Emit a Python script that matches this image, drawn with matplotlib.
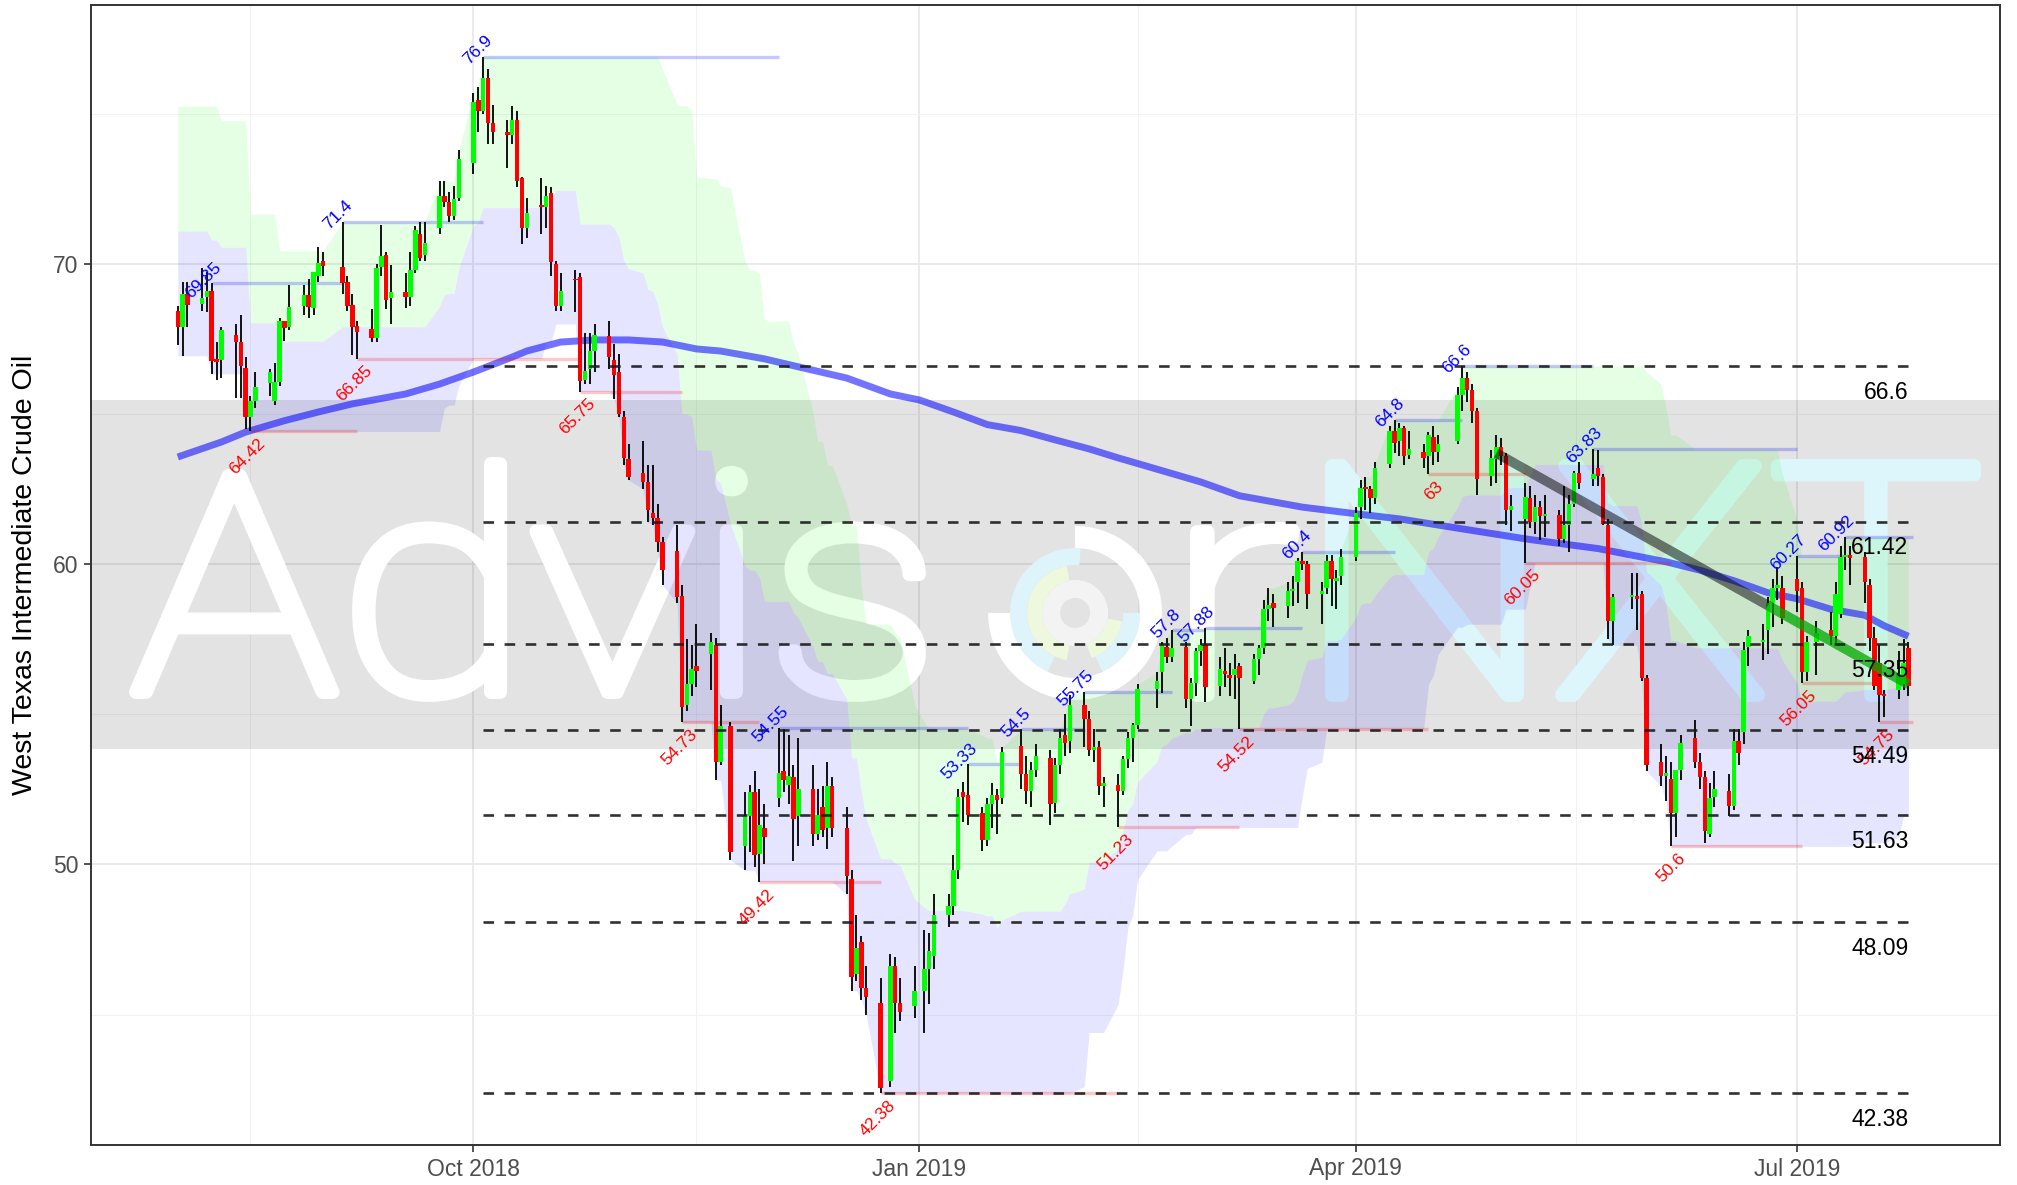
import numpy as np
import pandas as pd
import matplotlib
matplotlib.use("Agg")
import matplotlib.pyplot as plt
import matplotlib.dates as mdates
from matplotlib.patches import Wedge, PathPatch
from matplotlib.textpath import TextPath
from matplotlib.font_manager import FontProperties
from matplotlib.transforms import Affine2D

plt.rcParams["font.family"] = ["Liberation Sans", "DejaVu Sans"]

# trading days shown (NYMEX closed on these)
holidays = ["2018-09-03", "2018-11-22", "2018-12-25", "2019-01-01", "2019-01-21",
            "2019-02-18", "2019-04-19", "2019-05-27", "2019-07-04"]
days = pd.bdate_range("2018-08-01", "2019-07-24")
days = days[~days.isin(pd.to_datetime(holidays))]

# daily OHLC, one line per month
opens = [
    68.45, 67.90, 69.00, 68.67, 68.90, 69.09, 66.85, 66.80, 67.65, 67.40, 66.55, 64.90, 65.45, 66.04, 65.45, 66.06, 68.10, 67.90, 68.60, 68.95, 68.55, 69.60, 70.10,
    69.90, 69.40, 68.65, 67.95, 67.85, 67.55, 69.90, 70.30, 68.85, 69.05, 68.90, 69.80, 71.00, 70.30, 71.20, 72.25, 72.05, 71.60, 72.20,
    73.35, 75.45, 75.10, 76.20, 74.70, 74.40, 74.30, 74.80, 72.85, 71.20, 71.95, 71.90, 72.35, 70.00, 68.60, 69.50, 69.55, 66.15, 66.50, 67.10, 67.60, 66.80, 66.40,
    64.90, 63.50, 63.05, 62.75, 61.70, 61.55, 60.75, 60.45, 58.95, 55.30, 56.00, 56.60, 57.00, 57.30, 53.40, 54.60, 50.60, 51.60, 52.40, 50.35, 51.20,
    52.20, 53.10, 52.65, 52.90, 51.60, 52.50, 51.00, 51.90, 51.20, 52.60, 51.20, 49.50, 46.35, 47.40, 45.90, 45.40, 42.80, 46.60, 45.40, 45.30,
    45.80, 46.50, 46.95, 48.30, 48.60, 49.80, 52.40, 52.30, 51.70, 50.80, 52.00, 52.30, 52.20, 53.95, 53.00, 52.45, 53.15, 53.55, 52.05, 53.30, 54.30,
    54.10, 55.30, 54.85, 53.80, 53.90, 52.60, 52.65, 52.45, 53.50, 54.20, 54.65, 55.85, 56.40, 57.25, 56.90, 57.25, 55.50, 56.05, 57.10,
    57.30, 55.95, 56.45, 56.30, 56.30, 56.60, 56.10, 56.85, 57.20, 58.50, 58.70, 58.60, 59.10, 59.40, 60.10, 60.00, 59.00, 59.20, 60.10, 59.45, 59.60,
    60.25, 61.90, 62.55, 62.50, 62.20, 63.35, 64.45, 64.10, 64.55, 63.65, 63.75, 63.60, 64.25, 63.75, 64.10, 65.65, 66.20, 65.80, 65.10, 62.95, 63.50,
    63.90, 63.60, 61.80, 61.50, 62.20, 61.40, 61.90, 61.60, 61.65, 60.85, 61.30, 62.00, 63.05, 62.85, 63.20, 62.90, 61.30, 58.10, 58.90, 58.95, 59.00, 56.20,
    53.40, 52.95, 52.85, 51.70, 53.15, 54.20, 53.40, 52.90, 51.00, 52.25, 52.45, 51.95, 54.10, 54.40, 57.25, 57.40, 57.80, 58.70, 59.20, 59.20,
    59.50, 59.20, 56.40, 57.40, 57.80, 57.60, 58.35, 60.25, 60.30, 60.25, 59.30, 57.55, 56.70, 55.65, 55.80, 56.00, 57.20,
]
highs = [
    68.60, 69.40, 69.40, 69.85, 69.72, 69.35, 67.40, 67.90, 68.00, 68.30, 66.90, 65.60, 66.40, 66.50, 66.70, 68.20, 68.10, 69.30, 69.30, 69.50, 69.70, 70.55, 70.40,
    71.40, 69.60, 69.00, 68.10, 68.50, 70.00, 71.30, 70.40, 69.95, 69.70, 70.40, 71.25, 71.40, 71.40, 72.75, 72.75, 72.40, 72.60, 73.80,
    75.70, 75.90, 76.90, 76.50, 75.30, 74.80, 75.27, 75.10, 72.90, 72.20, 72.85, 72.60, 72.55, 70.10, 69.70, 69.80, 69.70, 67.70, 67.70, 68.00, 68.10, 67.35, 67.00,
    65.10, 64.00, 64.10, 63.30, 63.30, 62.00, 60.90, 61.30, 59.30, 57.50, 57.30, 58.00, 57.70, 57.55, 55.30, 54.75, 52.40, 52.65, 53.10, 52.50, 52.00,
    54.55, 54.50, 54.30, 53.30, 54.20, 53.30, 52.50, 52.60, 53.40, 52.90, 51.90, 49.80, 48.30, 47.60, 46.60, 46.20, 47.00, 46.90, 46.20, 46.60,
    47.80, 47.70, 49.00, 49.00, 50.30, 52.50, 52.75, 53.33, 51.90, 52.20, 52.70, 52.50, 53.90, 54.50, 53.60, 53.40, 54.00, 53.80, 53.55, 54.50, 55.00,
    55.65, 55.75, 55.10, 54.50, 54.10, 52.90, 53.00, 53.60, 54.40, 54.70, 56.00, 56.40, 57.40, 57.55, 57.80, 57.40, 56.20, 57.20, 57.50,
    57.88, 56.90, 57.20, 56.70, 57.00, 56.70, 57.00, 57.30, 58.80, 59.20, 59.00, 59.40, 59.60, 60.20, 60.40, 60.10, 59.40, 60.30, 60.30, 59.80, 60.50,
    61.90, 62.80, 62.90, 62.60, 63.40, 64.60, 64.80, 64.70, 64.60, 64.45, 64.00, 64.40, 64.60, 64.30, 65.90, 66.60, 66.40, 66.00, 65.20, 63.80, 64.30,
    64.20, 63.70, 62.30, 62.70, 62.60, 62.30, 62.10, 62.30, 61.80, 62.60, 62.30, 63.10, 63.40, 63.83, 63.80, 63.00, 61.50, 59.00, 59.70, 59.70, 59.10, 56.30,
    54.00, 53.60, 53.40, 53.10, 54.30, 54.80, 53.70, 53.10, 52.70, 53.10, 53.00, 54.50, 54.50, 57.40, 57.80, 58.00, 58.90, 59.50, 59.90, 59.60,
    60.27, 59.40, 57.60, 58.10, 58.40, 59.40, 60.60, 60.92, 60.60, 60.40, 59.50, 57.90, 57.30, 55.80, 57.10, 57.50, 57.40,
]
lows = [
    67.30, 66.95, 67.90, 68.45, 68.40, 66.34, 66.15, 66.20, 65.55, 65.55, 64.50, 64.42, 65.20, 65.60, 65.30, 65.95, 67.45, 67.80, 68.30, 68.20, 68.30, 69.40, 69.60,
    69.00, 68.45, 66.98, 66.85, 67.40, 67.40, 69.60, 68.50, 68.00, 68.55, 68.60, 69.70, 70.10, 70.10, 71.00, 71.90, 71.40, 71.45, 72.10,
    73.00, 74.40, 75.00, 74.00, 74.00, 73.20, 74.00, 72.55, 70.65, 70.85, 71.00, 71.20, 69.60, 68.45, 68.45, 68.40, 65.75, 66.00, 66.00, 66.40, 66.50, 65.50, 64.90,
    63.30, 62.80, 62.50, 61.40, 61.30, 60.40, 59.30, 58.70, 54.73, 55.10, 55.60, 55.90, 55.80, 52.80, 53.30, 50.15, 49.80, 50.40, 49.90, 49.42, 50.00,
    51.90, 52.40, 52.00, 50.10, 50.60, 50.60, 50.80, 50.90, 50.50, 50.90, 49.00, 45.80, 46.10, 45.50, 45.00, 42.38, 42.60, 44.40, 44.80, 44.90,
    44.40, 45.35, 46.50, 47.90, 48.30, 49.50, 51.40, 51.30, 50.45, 50.60, 51.20, 51.00, 52.00, 52.50, 52.00, 51.90, 52.90, 51.30, 51.70, 53.00, 53.60,
    53.70, 53.90, 53.60, 53.40, 52.30, 51.90, 51.23, 52.30, 53.20, 53.40, 54.50, 55.20, 55.70, 56.70, 56.75, 55.20, 54.60, 55.60, 56.60,
    55.40, 55.60, 55.90, 55.60, 55.50, 54.52, 56.00, 56.30, 57.00, 58.10, 57.90, 58.20, 58.60, 58.70, 59.80, 58.50, 58.00, 59.00, 58.60, 58.50, 59.30,
    60.10, 61.50, 61.80, 61.70, 62.00, 63.20, 63.70, 63.60, 63.30, 63.50, 63.20, 63.00, 63.30, 63.40, 64.00, 65.10, 65.40, 64.70, 62.30, 62.60, 62.70,
    63.30, 61.30, 61.10, 60.05, 61.20, 61.00, 60.80, 60.90, 60.60, 60.70, 60.40, 61.90, 62.50, 62.60, 62.60, 61.30, 57.50, 57.30, 58.50, 57.80, 56.10, 53.10,
    52.60, 52.10, 50.60, 50.90, 52.80, 53.20, 52.50, 50.72, 50.90, 51.90, 51.60, 51.80, 53.30, 54.00, 56.60, 56.80, 57.00, 57.90, 58.80, 58.00,
    58.40, 56.05, 56.10, 56.30, 57.30, 57.30, 58.20, 59.80, 59.30, 58.70, 57.10, 55.80, 54.75, 54.90, 55.50, 55.80, 55.60,
]
closes = [
    67.90, 69.00, 68.65, 68.86, 69.09, 66.78, 66.75, 67.80, 67.40, 66.60, 64.90, 65.45, 65.90, 66.40, 66.06, 68.10, 67.86, 68.56, 68.95, 68.56, 69.72, 70.03, 69.92,
    69.37, 68.60, 67.90, 67.75, 67.55, 69.86, 70.28, 68.80, 69.05, 68.90, 69.80, 71.13, 70.20, 70.70, 72.25, 72.05, 71.60, 72.15, 73.50,
    75.40, 75.10, 76.20, 74.70, 74.40, 74.30, 74.80, 72.75, 71.20, 71.70, 71.90, 72.25, 70.05, 68.60, 69.10, 69.45, 66.10, 66.45, 67.10, 67.65, 66.90, 66.30, 65.00,
    63.55, 62.90, 62.75, 61.80, 61.55, 60.75, 59.80, 58.90, 55.25, 56.00, 56.50, 56.45, 57.40, 53.40, 54.60, 50.40, 51.60, 52.40, 50.30, 51.30, 50.90,
    53.05, 52.80, 52.95, 51.50, 52.50, 51.00, 51.65, 51.15, 52.60, 51.20, 49.60, 46.25, 47.20, 45.90, 45.60, 42.55, 46.60, 45.40, 45.10, 45.80,
    46.50, 47.10, 48.30, 48.60, 49.80, 52.25, 52.25, 51.65, 50.80, 52.00, 52.30, 52.15, 53.75, 53.00, 52.45, 53.15, 53.60, 52.00, 53.30, 54.20, 54.05,
    55.30, 54.85, 53.80, 53.90, 52.60, 52.70, 52.45, 53.50, 54.20, 54.65, 55.85, 56.10, 57.30, 56.90, 57.20, 55.50, 56.05, 57.10, 57.30,
    55.90, 56.50, 56.35, 56.20, 56.50, 56.20, 56.85, 57.20, 58.50, 58.65, 58.55, 59.10, 59.15, 60.10, 60.00, 59.00, 59.10, 60.10, 59.50, 59.55, 60.25,
    61.70, 62.55, 62.50, 62.20, 63.20, 64.45, 64.05, 64.55, 63.60, 63.85, 63.55, 64.30, 63.75, 64.00, 65.65, 66.20, 65.80, 65.10, 62.85, 63.55, 63.90,
    63.60, 61.80, 61.95, 62.25, 61.40, 61.90, 61.60, 61.65, 60.85, 61.30, 62.00, 63.05, 62.70, 63.00, 62.95, 61.35, 58.10, 58.90, 58.95, 58.85, 56.20, 53.30,
    52.95, 53.05, 51.70, 53.15, 54.05, 53.40, 52.90, 51.10, 52.20, 52.50, 51.95, 54.10, 53.70, 57.15, 57.60, 57.45, 58.70, 59.20, 59.30, 58.20,
    59.10, 56.40, 57.40, 57.70, 57.60, 59.00, 60.25, 60.30, 60.20, 59.40, 57.55, 55.95, 55.65, 55.60, 56.30, 56.70, 55.95,
]

# channel edges for the first weeks (window still filling)
early_upper = [75.25] * 7 + [74.77] * 4 + [71.66] * 4 + [70.44] * 8 + [71.4] * 3
early_lower = [66.94] * 5 + [66.34] * 6 + [64.42] * 15

# long moving average (blue line)
ma_dates = ["2018-08-01", "2018-08-10", "2018-08-15", "2018-08-23", "2018-08-30", "2018-09-06",
            "2018-09-17", "2018-09-24", "2018-10-01", "2018-10-09", "2018-10-12", "2018-10-19",
            "2018-10-26", "2018-11-02", "2018-11-09", "2018-11-16", "2018-11-21", "2018-11-30",
            "2018-12-05", "2018-12-17", "2018-12-26", "2019-01-01", "2019-01-08", "2019-01-15",
            "2019-01-22", "2019-01-29", "2019-02-05", "2019-02-11", "2019-02-14", "2019-02-28",
            "2019-03-08", "2019-03-21", "2019-04-01", "2019-04-10", "2019-04-24", "2019-05-07",
            "2019-05-21", "2019-06-04", "2019-06-11", "2019-06-18", "2019-06-25", "2019-07-01",
            "2019-07-08", "2019-07-15", "2019-07-19", "2019-07-24"]
ma_values = [63.57, 64.07, 64.4, 64.78, 65.07, 65.34, 65.67, 66.0, 66.4, 66.9, 67.1, 67.4,
             67.47, 67.47, 67.4, 67.17, 67.1, 66.84, 66.65, 66.2, 65.67, 65.47, 65.07, 64.65,
             64.45, 64.14, 63.84, 63.54, 63.4, 62.74, 62.28, 61.9, 61.68, 61.51, 61.15, 60.82,
             60.52, 60.08, 59.8, 59.45, 59.05, 58.85, 58.5, 58.3, 57.95, 57.6]

# swing highs / lows (label text as printed, level as drawn)
peak_dates = ["2018-08-08", "2018-09-04", "2018-10-03", "2018-12-03", "2019-01-11", "2019-01-22",
              "2019-02-04", "2019-02-22", "2019-03-01", "2019-03-21", "2019-04-09", "2019-04-23",
              "2019-05-20", "2019-07-01", "2019-07-11"]
peak_values = [69.35, 71.4, 76.9, 54.55, 53.33, 54.5, 55.75, 57.8, 57.88, 60.4, 64.8, 66.6,
               63.83, 60.27, 60.92]
peak_labels = ["69.85", "71.4", "76.9", "54.55", "53.33", "54.5", "55.75", "57.8", "57.88",
               "60.4", "64.8", "66.6", "63.83", "60.27", "60.92"]
trough_dates = ["2018-08-16", "2018-09-07", "2018-10-23", "2018-11-13", "2018-11-29", "2018-12-24",
                "2019-02-11", "2019-03-08", "2019-04-16", "2019-05-06", "2019-06-05", "2019-07-02",
                "2019-07-18"]
trough_values = [64.42, 66.85, 65.75, 54.73, 49.42, 42.38, 51.23, 54.52, 63.0, 60.05, 50.6,
                 56.05, 54.75]
trough_labels = ["64.42", "66.85", "65.75", "54.73", "49.42", "42.38", "51.23", "54.52", "63",
                 "60.05", "50.6", "56.05", "54.75"]

# horizontal levels
levels = [66.6, 61.42, 57.35, 54.49, 51.63, 48.09, 42.38]
levels_from = "2018-10-03"

# shaded zone and trend line
zone = (53.84, 65.47)
trend_dates = ["2019-04-30", "2019-07-24"]
trend_values = [63.7, 56.0]
trend_recent_dates = ["2019-06-25", "2019-07-24"]
trend_recent_values = [58.62, 56.0]

# ---------------------------------------------------------------
fig = plt.figure(figsize=(20.17, 11.85), dpi=100)
ax = fig.add_axes([91 / 2017, 40 / 1185, 1909 / 2017, 1140 / 1185])

x = mdates.date2num(days)
o, h, l, c = (np.array(v) for v in (opens, highs, lows, closes))

span = x[-1] + 1 - x[0]
ax.set_xlim(x[0] - 0.05 * span, x[-1] + 1 + 0.05 * span)
yr = h.max() - l.min()
ax.set_ylim(l.min() - 0.05 * yr, h.max() + 0.05 * yr)

# grid
ax.set_axisbelow(True)
quarters = mdates.date2num(pd.to_datetime(["2018-07-01", "2018-10-01", "2019-01-01",
                                           "2019-04-01", "2019-07-01"]))
ax.set_xticks(quarters[1:])
ax.set_xticklabels([mdates.num2date(q).strftime("%b %Y") for q in quarters[1:]])
ax.set_xticks((quarters[:-1] + quarters[1:]) / 2, minor=True)
ax.set_yticks([50, 60, 70])
ax.set_yticks([45, 55, 65, 75], minor=True)
ax.grid(which="major", color="#e8e8e8", lw=1.3)
ax.grid(which="minor", color="#f2f2f2", lw=0.7)

ax.axhspan(*zone, color="black", alpha=0.11, lw=0, zorder=0.8)

# watermark: each word fitted into its box (axes fractions: left, baseline, right, top)
fig.canvas.draw()
wm_font = FontProperties(family=["Roboto", "DejaVu Sans"], weight="light")


def mark(s, box, col):
    tp = TextPath((0, 0), s, size=100, prop=wm_font)
    ext = tp.get_extents()
    (x0, y0), (x1, y1) = ax.transAxes.transform([box[:2], box[2:]])
    pad = 7
    tf = (Affine2D().translate(-ext.x0, -ext.y0)
          .scale((x1 - x0 - 2 * pad) / ext.width, (y1 - y0 - 2 * pad) / ext.height)
          .translate(x0 + pad, y0 + pad))
    ax.add_patch(PathPatch(tp, transform=tf, facecolor=col, edgecolor=col, lw=10,
                           joinstyle="round", zorder=1))


mark("Advis", (0.0199, 0.3886, 0.4374, 0.6035), "white")
mark("r", (0.5757, 0.3886, 0.6333, 0.5465), "white")
mark("NXT", (0.6464, 0.3886, 0.9901, 0.6018), "#ddf6fb")

cx, cy = ax.transAxes.transform((0.5155, 0.4667))
logo_tf = Affine2D().translate(cx, cy)
for r, w, t1, t2, col in [(33, 18, 0, 360, "#f3f3f3"),
                          (48, 15, 100, 260, "#eef8dc"),
                          (48, 15, 290, 350, "#eef8dc"),
                          (65, 17, 85, 245, "#ddf4fa"),
                          (65, 17, 295, 360, "#ddf4fa"),
                          (87, 22, 180, 450, "white")]:
    ax.add_patch(Wedge((0, 0), r, t1, t2, width=w, color=col, lw=0,
                       transform=logo_tf, zorder=1))

# price channel
upper = pd.Series(highs).rolling(27, min_periods=1).max().to_numpy()
lower = pd.Series(lows).rolling(27, min_periods=1).min().to_numpy()
upper[:len(early_upper)] = early_upper
lower[:len(early_lower)] = early_lower
mid = (upper + lower) / 2
ax.fill_between(x, mid, upper, color="#00ff00", alpha=0.1, lw=0, zorder=2)
ax.fill_between(x, lower, mid, color="blue", alpha=0.1, lw=0, zorder=2)

# moving average
ax.plot(mdates.date2num(pd.to_datetime(ma_dates)), ma_values, color="blue", alpha=0.55,
        lw=5, zorder=3, solid_capstyle="butt")

# swing lines and labels
px = mdates.date2num(pd.to_datetime(peak_dates))
tx = mdates.date2num(pd.to_datetime(trough_dates))
pend = list(px[1:]) + [x[-1] + 1]
tend = list(tx[1:]) + [x[-1] + 1]
ax.hlines(peak_values, px, pend, color="blue", alpha=0.22, lw=2.4, zorder=3)
ax.hlines(trough_values, tx, tend, color="red", alpha=0.22, lw=2.4, zorder=3)
for xi, v, s in zip(px, peak_values, peak_labels):
    ax.text(xi + 2.5, v + 0.45, s, color="blue", fontsize=12.5, rotation=45,
            rotation_mode="anchor", ha="right", va="bottom", zorder=7)
for xi, v, s in zip(tx, trough_values, trough_labels):
    ax.text(xi + 1.5, v - 0.15, s, color="red", fontsize=12.5, rotation=45,
            rotation_mode="anchor", ha="right", va="top", zorder=7)

# candles
up = c >= o
body = np.maximum(np.abs(c - o), 0.06)
base = np.minimum(o, c)
ax.vlines(x, l, h, color="black", lw=1.3, zorder=4)
ax.bar(x[up], body[up], bottom=base[up], width=0.92, color="#00ff00", lw=0, zorder=5)
ax.bar(x[~up], body[~up], bottom=base[~up], width=0.92, color="#ff0000", lw=0, zorder=5)

# trend line
ax.plot(mdates.date2num(pd.to_datetime(trend_dates)), trend_values, color="black",
        alpha=0.5, lw=7, zorder=6, solid_capstyle="butt")
ax.plot(mdates.date2num(pd.to_datetime(trend_recent_dates)), trend_recent_values,
        color="#00ff00", alpha=0.5, lw=7, zorder=6, solid_capstyle="butt")

# levels
lx0 = mdates.date2num(pd.Timestamp(levels_from))
ax.hlines(levels, lx0, x[-1], colors="#1a1a1a", linestyles=(0, (4, 4)), lw=1.9,
          alpha=0.9, zorder=6)
for v in levels:
    ax.text(x[-1], v - 0.88, f"{v:g}", fontsize=16.5, ha="right", va="center",
            color="black", zorder=7)

# axes styling
ax.set_ylabel("West Texas Intermediate Crude Oil", fontsize=20.5, color="black")
ax.yaxis.set_label_coords(-0.028, 0.5)
ax.tick_params(which="major", length=5, width=1.2, color="#333333", labelsize=16.5,
               labelcolor="#4d4d4d", pad=4)
ax.tick_params(which="minor", length=0)
for sp in ax.spines.values():
    sp.set_color("#333333")
    sp.set_linewidth(1.4)

fig.savefig("out.png", dpi=100)
